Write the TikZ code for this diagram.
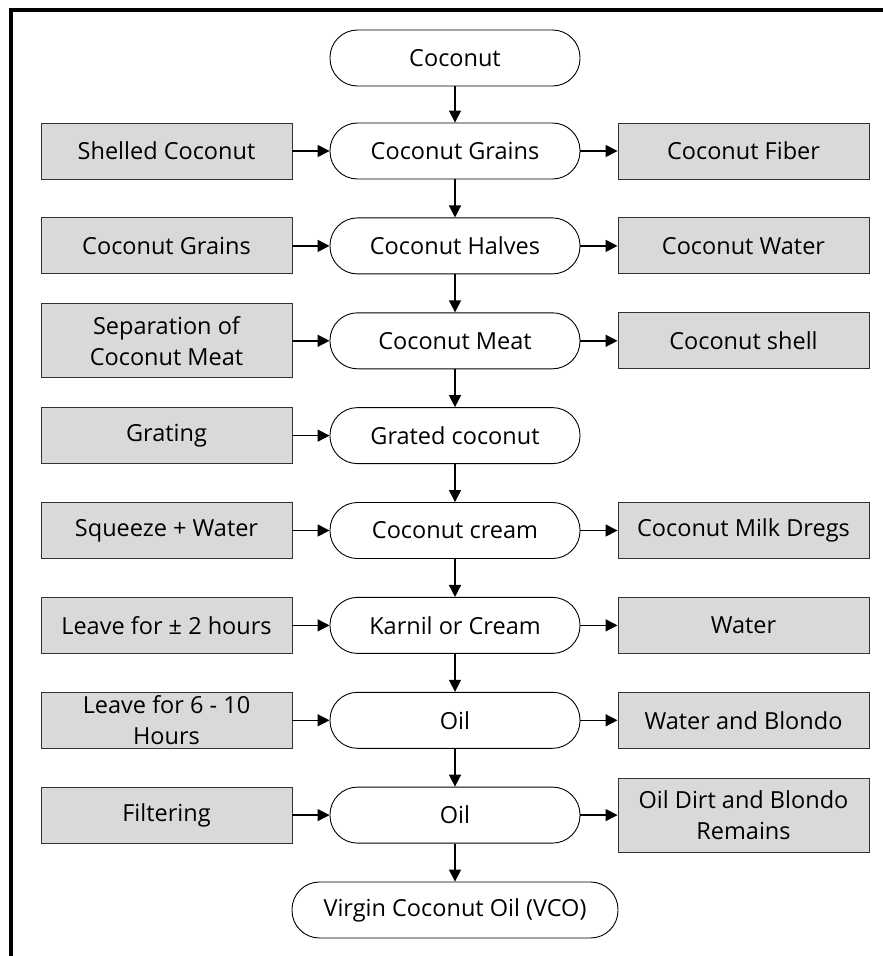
\documentclass[tikz,border=0pt]{standalone}
\usepackage{fontspec}
\setmainfont{Open Sans}
\usetikzlibrary{arrows.meta}
\begin{document}
\begin{tikzpicture}[x=1pt,y=-1pt,
  every node/.style={font=\fontsize{23.5}{31}\selectfont, text=black, align=center, inner sep=0pt},
  proc/.style={draw=black, line width=0.9pt, rounded corners=27.5pt, fill=white, minimum width=250pt, minimum height=56pt},
  side/.style={draw=black!80, line width=0.9pt, fill=black!15, minimum width=251pt, minimum height=56pt},
  arr/.style={draw=black, line width=1.4pt, -{Triangle[length=12pt,width=12pt]}}
]
\useasboundingbox (0,0) rectangle (883,956);
\draw[line width=4pt] (10.5,956) -- (10.5,10) -- (883,10);
\def\xl{166.5}\def\xc{455}\def\xr{743.5}
% rows
\node[proc] (c0) at (\xc,58) {Coconut};
\node[proc] (c1) at (\xc,151) {Coconut Grains};
\node[side] (l1) at (\xl,151) {Shelled Coconut};
\node[side] (r1) at (\xr,151) {Coconut Fiber};
\node[proc] (c2) at (\xc,245.9) {Coconut Halves};
\node[side] (l2) at (\xl,245.9) {Coconut Grains};
\node[side] (r2) at (\xr,245.9) {Coconut Water};
\node[proc] (c3) at (\xc,340.8) {Coconut Meat};
\node[side, minimum height=74pt] (l3) at (\xl,340.8) {Separation of\\Coconut Meat};
\node[side] (r3) at (\xr,340.8) {Coconut shell};
\node[proc] (c4) at (\xc,435.6) {Grated coconut};
\node[side] (l4) at (\xl,435.6) {Grating};
\node[proc] (c5) at (\xc,530.5) {Coconut cream};
\node[side] (l5) at (\xl,530.5) {Squeeze + Water};
\node[side] (r5) at (\xr,530.5) {Coconut Milk Dregs};
\node[proc] (c6) at (\xc,625.4) {Karnil or Cream};
\node[side] (l6) at (\xl,625.4) {Leave for ± 2 hours};
\node[side] (r6) at (\xr,625.4) {Water};
\node[proc] (c7) at (\xc,720.3) {Oil};
\node[side] (l7) at (\xl,720.3) {Leave for 6 - 10\\Hours};
\node[side] (r7) at (\xr,720.3) {Water and Blondo};
\node[proc] (c8) at (\xc,815.1) {Oil};
\node[side] (l8) at (\xl,815.1) {Filtering};
\node[side, minimum height=74pt] (r8) at (\xr,815.1) {Oil Dirt and Blondo\\Remains};
\node[proc, minimum width=326pt] (c9) at (\xc,910) {Virgin Coconut Oil (VCO)};
% vertical arrows
\foreach \a/\b in {c0/c1,c1/c2,c2/c3,c3/c4,c4/c5,c5/c6,c6/c7,c7/c8,c8/c9}
  \draw[arr] (\a) -- (\b);
% left arrows
\foreach \n in {1,...,8}
  \draw[arr] (l\n) -- (c\n);
% right arrows
\foreach \n in {1,2,3,5,6,7,8}
  \draw[arr] (c\n) -- (r\n);
\end{tikzpicture}
\end{document}
